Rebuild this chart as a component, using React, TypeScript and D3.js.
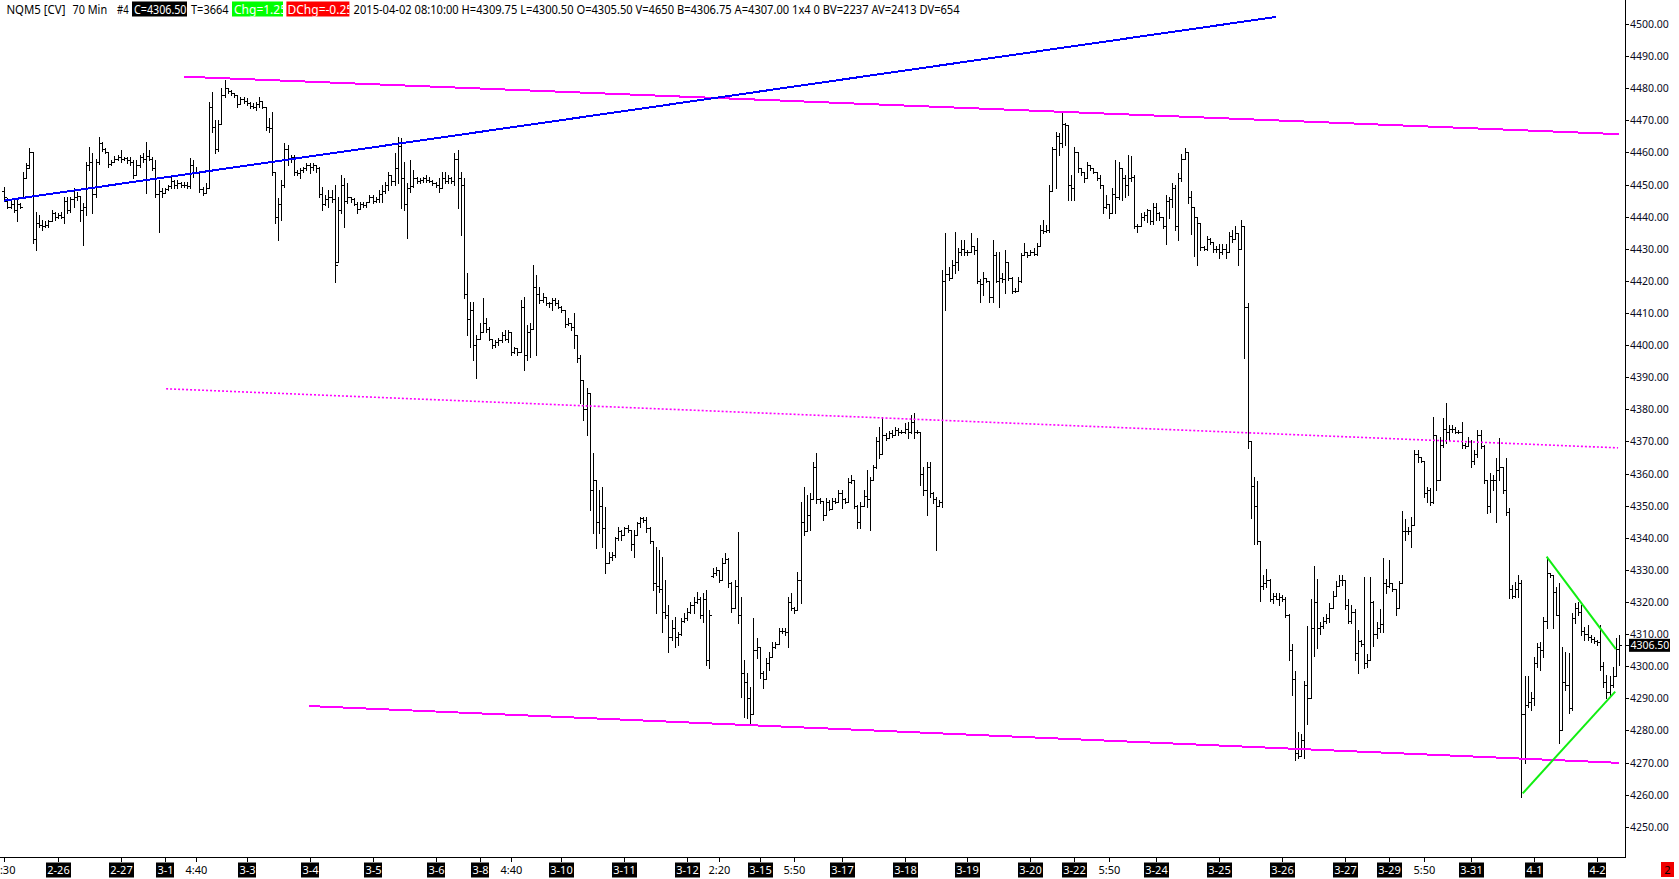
import React, { useLayoutEffect } from "react";
import * as d3 from "d3";

type Bar = [number, number, number, number]; // open, high, low, close

// ---------- OHLC sessions (70 min bars) ----------
const d0225: Bar[] = [
[4448,4449.3,4445.2,4446],[4445,4445.7,4442.6,4443],[4443,4445.2,4442.6,4444],[4444,4445.2,4441.6,4442],
[4442,4445.2,4438.5,4444],[4444,4444.2,4442.6,4443],[4446,4454,4446,4452],[4452,4456.6,4452,4455],
[4456,4461.3,4455,4460],[4460,4460,4431.7,4433],[4433,4441.6,4429.6,4438],[4438,4440.5,4436.9,4437.5],
[4437.5,4439,4435.9,4437],[4437,4438.5,4436.9,4437.5],[4437.5,4439,4436.9,4438.5],[4438.5,4442.1,4438.5,4441],
[4441,4441.5,4439,4440]];
const d0226: Bar[] = [
[4440,4441.1,4439.5,4440.5],[4440.5,4441.6,4439.5,4440],[4440,4446.2,4438,4445],[4445,4446,4441.1,4442],
[4442,4446.2,4441.5,4445.5],[4445.5,4448.8,4443.1,4446],[4446,4447.8,4445.2,4446.5],[4446.5,4446.5,4438.5,4442],
[4442,4444.2,4431.2,4443],[4443,4457.1,4440.5,4456],[4456,4461.8,4454.5,4457],[4457,4459.7,4441.1,4447],
[4447,4458,4446,4457],[4457,4464.9,4456.5,4463],[4463,4463.4,4460.3,4461],[4461,4461.3,4459.7,4460],
[4460,4460,4455.6,4456.5],[4456.5,4457.7,4456.1,4457],[4457,4458.9,4457,4458],[4458,4459.2,4457.7,4458.5]];
const d0227: Bar[] = [
[4458.5,4460.8,4457.1,4458],[4458,4458.7,4457.7,4458.2],[4458.2,4458.7,4456.6,4457.5],[4457.5,4458.7,4456.1,4457],
[4457,4457.7,4452,4453],[4453,4457.7,4453,4456],[4456,4459.2,4455.6,4458.5],[4458.5,4459.7,4457.1,4458],
[4458,4463.4,4447.3,4459],[4459,4460.8,4457.7,4458],[4458,4458.7,4454.5,4455],[4455,4457.7,4446.2,4447],
[4447,4451.4,4435.3,4448],[4448,4448.8,4446.2,4447.5]];
const d0301: Bar[] = [
[4447.5,4448.8,4447.3,4448.5],[4448.5,4449.9,4448.3,4449.5],[4449.5,4452.5,4448.8,4451],[4451,4451.4,4448.8,4450],
[4450,4451.4,4448.8,4450.5],[4450.5,4450.9,4449.3,4450]];
const d0302: Bar[] = [
[4450,4450.9,4449.3,4450],[4450,4450.9,4448.8,4449.5],[4449.5,4458.2,4448.8,4456],[4456,4457.7,4452.5,4454],
[4454,4455.6,4453.5,4454],[4454,4454,4447.8,4448.5],[4448.5,4449.3,4446.8,4447.5],[4447.5,4450.4,4447.5,4449],
[4449,4475.8,4449,4474],[4474,4478.9,4466.5,4468],[4468,4470.1,4459.7,4461],[4461,4470.1,4460.3,4469],
[4469,4480,4469,4478],[4478,4482.6,4477.4,4480],[4480,4480,4478.4,4479],[4479,4479.5,4477.9,4478.5],
[4478.5,4478.5,4477.4,4478],[4478,4478,4474.3,4475],[4475,4477.4,4475,4476.5],[4476.5,4477.4,4475.3,4476]];
const d0303: Bar[] = [
[4476,4476.9,4474.8,4475.5],[4475.5,4475.8,4473.7,4474.5],[4474.5,4475.3,4473.7,4474],[4474,4475.8,4473.2,4475],
[4475,4477.4,4474.3,4476],[4476,4476,4473.7,4474],[4474,4474,4467,4468],[4468,4470.6,4466.5,4467.5],
[4467.5,4472.7,4453,4454],[4454,4454,4438,4440],[4440,4445.7,4432.7,4444],[4444,4451.4,4439,4450],
[4450,4462.8,4449.3,4461],[4461,4462.3,4456.1,4458],[4458,4459.2,4457.1,4458.5],[4458.5,4459.2,4453,4454],
[4454,4454.5,4453,4453.5],[4453.5,4455,4451.9,4454.5],[4454.5,4455.6,4454,4455],[4455,4456.6,4454.5,4456]];
const d0304: Bar[] = [
[4456,4456.6,4453.5,4455.5],[4455.5,4456.6,4454.5,4456],[4456,4456,4454,4455],[4455,4455.6,4446.2,4447],
[4447,4449.3,4442.1,4444],[4444,4446.7,4443.6,4445.5],[4445.5,4448.3,4443.1,4446],[4446,4448.3,4444.7,4445.5],
[4445.5,4449.9,4419.8,4425],[4426,4446.2,4426,4442],[4442,4453,4441,4450],[4450,4451.9,4436.9,4445],
[4445,4450.4,4444.1,4446],[4446,4446.2,4444.7,4445.5],[4445.5,4445.7,4443.6,4444],[4444,4444.7,4441,4442.5],
[4442.5,4444.7,4442.5,4444],[4444,4444.7,4443.1,4443.5],[4443.5,4444.7,4443.1,4444.5],[4444.5,4446.7,4444.5,4446]];
const d0305: Bar[] = [
[4446,4446.7,4444.1,4445],[4445,4446.2,4444.7,4445.5],[4445.5,4448.3,4444.7,4447],[4447,4449.9,4444.7,4448],
[4448,4450.9,4447.3,4450],[4450,4454,4448.3,4453],[4453,4453,4449.9,4451],[4451,4459.7,4449.9,4455],
[4455,4464.9,4450.4,4462],[4462,4464.4,4442.6,4452],[4452,4457.1,4442.1,4444],[4444,4450.4,4433.3,4449],
[4449,4457.6,4447.8,4449.5],[4449.5,4454.5,4449.3,4452],[4452,4452.5,4450.4,4451],[4451,4451.9,4450.4,4451.5],
[4451.5,4452.5,4450.9,4452],[4452,4453,4450.9,4451.5],[4451.5,4452.5,4450.9,4451],[4451,4451.4,4449.9,4450.5]];
const d0306: Bar[] = [
[4450.5,4450.9,4449.3,4450],[4450,4451.9,4447.8,4449],[4449,4454,4448.8,4452],[4452,4454,4450.4,4451],
[4451,4453,4450.4,4452],[4452,4452.2,4450.4,4451],[4451,4459.7,4449.9,4458],[4458,4460.8,4442.6,4452],
[4452,4454,4434.3,4450],[4450,4451.9,4414.6,4416],[4416,4422.4,4403.1,4408],[4408,4413.5,4399.5,4411],
[4411,4413.5,4395.4,4400],[4400,4403.1,4389.7,4402]];
const d0308: Bar[] = [
[4402,4406.8,4402,4404],[4404,4414.6,4404,4407],[4407,4408.3,4404.2,4405],[4405,4405.7,4401.6,4402],
[4402,4402,4399,4400],[4400,4401.6,4399.5,4401]];
const d0309: Bar[] = [
[4401,4402.1,4400,4401.5],[4401.5,4404.2,4401.1,4403],[4403,4404.7,4401.5,4402],[4402,4404.7,4401.1,4404],
[4404,4404,4396.9,4398],[4398,4399.5,4397.5,4399],[4399,4399,4396.9,4398],[4398,4414,4398,4412],
[4412,4415,4392.2,4397],[4397,4406.3,4395.4,4404],[4404,4406.8,4396.4,4405],[4405,4425,4405,4418],
[4418,4421.8,4397,4416],[4416,4418.2,4413,4414],[4414,4416.1,4413.5,4415],[4415,4415.1,4412.5,4413],
[4413,4413.5,4412,4413],[4413,4414.6,4411,4414],[4414,4414.6,4412.5,4413],[4413,4414,4411.5,4412]];
const d0310: Bar[] = [
[4412,4412.2,4410.4,4411],[4411,4411,4405.7,4406.5],[4406.5,4408.3,4406.3,4407],[4407,4407,4404.7,4405.5],
[4405.5,4409.9,4399,4403],[4403,4403,4394.8,4396],[4396,4396.9,4381.9,4389],[4389,4389,4376.7,4380],
[4380,4386.5,4372,4385],[4385,4385,4348.6,4355],[4355,4366.3,4341.4,4358],[4358,4358,4336.7,4345],
[4345,4354.9,4341.4,4350],[4350,4355.9,4337.2,4343],[4343,4349.7,4328.9,4332],[4332,4335.7,4332,4334],
[4334,4335.7,4333.1,4334.5],[4334.5,4340.3,4334.1,4340],[4340,4343.5,4339.3,4342],[4342,4342.5,4339.3,4341]];
const d0311: Bar[] = [
[4341,4343.5,4340.9,4343],[4343,4344,4341.9,4342.5],[4342.5,4342.5,4336.2,4338],[4338,4342.4,4334.1,4341],
[4341,4345,4341,4344.5],[4344.5,4346.6,4343.5,4346],[4346,4346.6,4345,4345.5],[4345.5,4346.6,4341.9,4343],
[4343,4343.5,4338.3,4339],[4339,4339,4323.7,4326],[4326,4337.2,4316.5,4325],[4325,4336.2,4323.2,4324],
[4324,4334.1,4310.8,4317],[4317,4326.9,4314.9,4316],[4316,4319.1,4304.5,4309],[4309,4314.4,4308.2,4312],
[4312,4315.4,4306.1,4309],[4309,4310.8,4306.6,4310],[4310,4314.9,4309.7,4314],[4314,4316.5,4313.9,4315]];
const d0312: Bar[] = [
[4315,4318,4314.4,4317],[4317,4320.1,4316.5,4319],[4319,4321.7,4316.5,4320],[4320,4323.2,4319.6,4321],
[4321,4321.5,4314.9,4316],[4316,4322.7,4313.9,4321],[4321,4323.7,4300.4,4302],[4302,4317.5,4299.4,4316]];
const d0313: Bar[] = [
[4328,4330.5,4327.9,4329],[4329,4331,4328.4,4330],[4330,4330,4326.3,4327],[4327,4333.6,4327,4332],
[4332,4335.2,4332,4333.5],[4333.5,4333.6,4324.8,4326],[4326,4326.3,4317,4318],[4318,4326.9,4318,4325],
[4325,4341.9,4313.4,4316],[4316,4321.7,4290.5,4298],[4298,4302,4284.3,4295],[4295,4297.8,4283.8,4290],
[4290,4293.6,4281.7,4285],[4285,4314.9,4285,4305],[4305,4308.7,4302.5,4306]];
const d0315: Bar[] = [
[4306,4306,4296.2,4298],[4298,4298.5,4293.1,4296],[4296,4302.5,4296,4301],[4301,4304.5,4298.8,4303],
[4303,4307.6,4303,4306],[4306,4307.6,4305.6,4307]];
const d0316: Bar[] = [
[4307,4311.8,4307,4311],[4311,4311.8,4310.2,4311],[4311,4311.8,4309.7,4310.5],[4310.5,4321.7,4306.1,4320],
[4320,4322.7,4317.5,4318],[4318,4318.5,4316.5,4317.5],[4317.5,4329.4,4317.5,4327],[4327,4351.2,4319.6,4345],
[4345,4355.9,4340.9,4342],[4342,4353.3,4342,4347],[4347,4353.8,4342.4,4352],[4352,4363.7,4352,4362],
[4362,4366.3,4350.7,4352],[4352,4352.3,4350.7,4351.5],[4351.5,4351.5,4345.5,4347],[4347,4352.3,4347,4351],
[4351,4351.8,4348.6,4349],[4349,4352.3,4349,4351.5],[4351.5,4352.3,4350.7,4351],[4351,4354.9,4351,4354]];
const d0317: Bar[] = [
[4354,4354.9,4349.2,4352],[4352,4352.3,4350.7,4351],[4351,4358.5,4351,4357.5],[4357.5,4359.6,4357,4358],
[4358,4358,4349.2,4350],[4350,4350.2,4342.9,4345],[4345,4351.2,4342.9,4350],[4350,4354.9,4350,4353],
[4353,4361.1,4349.7,4352],[4352,4359,4342.4,4358],[4358,4362.7,4358,4362],[4362,4371.5,4361.6,4370],
[4370,4374.6,4364.7,4366],[4366,4377.7,4366,4372],[4372,4372.5,4370.4,4371],[4371,4373.1,4371,4372.5],
[4372.5,4373.6,4371.5,4372],[4372,4374.6,4372,4373.5],[4373.5,4374.1,4372,4373],[4373,4373.6,4372.5,4373]];
const d0318: Bar[] = [
[4373,4375.6,4372.5,4374],[4374,4376.2,4371,4373],[4373,4378.2,4372.5,4376],[4376,4378.8,4371,4373],
[4373,4373.6,4372.5,4373],[4373,4373,4356.4,4360],[4360,4362.1,4353.3,4355],[4355,4363.7,4347.1,4362],
[4362,4363.7,4352.8,4354],[4354,4354.4,4350.7,4352],[4352,4352.8,4336.2,4350],[4350,4351.8,4350.2,4351],
[4351,4423.4,4349.7,4420],[4420,4434.8,4410.9,4422],[4422,4424.4,4420.3,4421],[4421,4426.5,4421,4425],
[4425,4435.3,4422.4,4426],[4426,4430.1,4423.4,4429],[4429,4432.7,4428.1,4430],[4430,4432.7,4428.1,4429]];
const d0319: Bar[] = [
[4429,4429.6,4428.1,4429],[4429,4434.8,4429,4431],[4431,4431,4428.5,4429.5],[4429.5,4433.2,4419.2,4420],
[4420,4420.5,4413.5,4419],[4419,4422.9,4415.6,4421],[4421,4421,4419.8,4420],[4420,4420,4413.5,4415],
[4415,4432.7,4413.5,4428],[4428,4429.1,4419.8,4420],[4420,4429.1,4412,4421],[4421,4422.4,4419.8,4420.5],
[4420.5,4429.6,4416.1,4426],[4426,4426,4420.3,4421],[4421,4421.3,4416.1,4417],[4417,4417.7,4416.6,4417],
[4417,4421.3,4417,4420],[4420,4428.6,4419.8,4428],[4428,4431.7,4428,4429],[4429,4429.1,4427.5,4428]];
const d0320: Bar[] = [
[4428,4429.6,4428,4429],[4429,4430.1,4428.1,4428.5],[4428.5,4431.7,4428.1,4431],[4431,4437.4,4431,4436],
[4436,4439,4434.8,4435.5],[4435.5,4437.4,4435.3,4436],[4436,4449.9,4435.3,4448],[4448,4461.8,4448,4461],
[4461,4466.5,4448.8,4465],[4465,4465.9,4459.2,4463],[4463,4472.2,4461.8,4469],[4469,4469.1,4462.3,4468.5],
[4468.5,4468.5,4445.2,4450],[4450,4453,4445.2,4449]];
const d0322: Bar[] = [
[4449,4461.8,4445.2,4460],[4460,4460.2,4454,4455],[4455,4455,4453,4454],[4454,4454,4450.9,4452],
[4452,4457.1,4452,4456],[4456,4456.1,4454.5,4455]];
const d0323: Bar[] = [
[4455,4455,4453.5,4454],[4454,4454,4451.4,4452],[4452,4453,4448.8,4450],[4450,4450,4441,4443],
[4443,4446.7,4442.6,4444],[4444,4444,4439.5,4441],[4441,4448.8,4441,4447],[4447,4457.6,4441,4446],
[4446,4457.1,4445.4,4455],[4455,4455,4445.2,4452],[4452,4453.1,4446.2,4450],[4450,4459.2,4446.7,4452],
[4452,4458.8,4451.2,4452.5],[4452.5,4453.1,4436.5,4437],[4437,4437.8,4435.3,4437],[4437,4441,4437,4440],
[4440,4441.6,4439.1,4440.5],[4440.5,4442.3,4438.4,4442],[4442,4442,4437.8,4438.5],[4438.5,4444.2,4437.8,4443]];
const d0324: Bar[] = [
[4443,4444.2,4439.1,4441],[4441,4441.6,4439.1,4440],[4440,4440,4436.5,4437],[4437,4446.7,4431.5,4445],
[4445,4446.1,4439.7,4445.5],[4445.5,4450.5,4442.9,4449],[4449,4449.9,4435.9,4437],[4437,4453.7,4432.7,4452],
[4452,4459.4,4451.2,4458],[4458,4461.3,4458,4460],[4460,4460,4444.2,4446],[4446,4448,4434.6,4443],
[4443,4443,4427.6,4440],[4440,4440,4425.1,4438],[4438,4438,4429.6,4430.5],[4430.5,4430.8,4429.6,4430],
[4430,4434,4429.6,4433],[4433,4433.4,4431.5,4432],[4432,4432.1,4428.9,4430],[4430,4430.8,4428.9,4430]];
const d0325: Bar[] = [
[4430,4431.5,4427,4429],[4429,4431.5,4428.3,4430],[4430,4431.5,4427,4429],[4429,4435.3,4429,4434],
[4434,4435.9,4432.1,4433],[4433,4437.2,4433,4435],[4435,4435,4425.1,4430],[4430,4439.1,4430,4437],
[4437,4437,4395.9,4412],[4412,4413,4367.9,4370],[4370,4370,4346.3,4356],[4356,4359,4338,4350],
[4350,4357.7,4338,4339],[4339,4339,4320.3,4325],[4325,4328.5,4324.1,4326],[4326,4330.4,4324.7,4327],
[4327,4327.3,4320.3,4321],[4321,4322.8,4319.6,4322],[4322,4322.8,4320.9,4321],[4321,4322.8,4319,4321.5]];
const d0326: Bar[] = [
[4321.5,4322.2,4320.3,4321],[4321,4321.5,4315.2,4316],[4316,4316.4,4301.8,4305],[4305,4306.9,4291,4296],
[4296,4298.6,4270.7,4273],[4273,4279.6,4271.3,4272],[4272,4278.9,4272,4277],[4277,4295.5,4271.3,4294],
[4294,4312.6,4282.1,4290],[4290,4320.9,4290,4312],[4312,4331.1,4303.1,4320],[4320,4327.3,4305.6,4312],
[4312,4313.9,4310.1,4312.5],[4312.5,4315.2,4312,4314],[4314,4316.4,4313.3,4315],[4315,4319.6,4313.9,4318],
[4318,4323.4,4318,4322],[4322,4326.6,4322,4325],[4325,4328.5,4325,4327],[4327,4328.5,4325.3,4327]];
const d0327: Bar[] = [
[4327,4327,4317.7,4319],[4319,4320.9,4313.3,4314],[4314,4319,4313.3,4317],[4317,4317.7,4301.8,4304],
[4304,4311.3,4298,4308],[4308,4308.2,4306.3,4307],[4307,4327.9,4299.3,4301],[4301,4303.7,4299.9,4302],
[4302,4327.9,4301.8,4320],[4320,4320.3,4306.3,4310],[4310,4313.9,4308.8,4312],[4312,4317.7,4310.7,4313],
[4313,4333.6,4310.7,4326],[4326,4327.3,4322.8,4325]];
const d0329: Bar[] = [
[4325,4333,4324.7,4326],[4326,4326,4323.4,4324],[4324,4324.1,4315.8,4318],[4318,4326.6,4318,4326],
[4326,4348.2,4326,4342],[4342,4345.7,4339.3,4342]];
const d0330: Bar[] = [
[4342,4343.5,4341.2,4342],[4342,4346.6,4337.2,4344],[4344,4367.3,4344,4366],[4366,4367.3,4363.7,4365],
[4365,4365,4363.7,4364],[4364,4364,4352.8,4354],[4354,4355.9,4351.2,4355],[4355,4355.4,4350.2,4351],
[4351,4377.7,4350.7,4372],[4372,4372,4354.9,4358],[4358,4371.5,4358,4369],[4369,4377.2,4368.4,4374],
[4374,4381.9,4369.4,4373],[4373,4375.1,4370.4,4374],[4374,4375.1,4373,4374],[4374,4374.6,4372.5,4373],
[4373,4373.6,4372.5,4373],[4373,4376.2,4367.9,4369],[4369,4369.4,4367.9,4368.5],[4368.5,4371.5,4368.5,4370]];
const d0331: Bar[] = [
[4370,4370.5,4362.1,4364],[4364,4367.3,4363,4366],[4366,4373.6,4365.3,4372],[4372,4373.6,4367.9,4368.5],
[4368.5,4369,4356.9,4358],[4358,4358,4347.6,4350],[4350,4360.1,4348.1,4358],[4358,4359.6,4354.9,4358],
[4358,4364.7,4345,4361],[4361,4371,4358,4362],[4362,4362,4353.8,4355],[4355,4364.7,4347,4348],
[4348,4349.2,4321.1,4324],[4324,4325.3,4321.1,4322],[4322,4326.3,4321.7,4324],[4324,4328.4,4321.7,4326],
[4326,4326.8,4259.4,4285],[4285,4296.8,4269.8,4288],[4288,4296.8,4287.4,4289],[4289,4292.1,4286.4,4290]];
const d0401: Bar[] = [
[4290,4303,4287.9,4301],[4301,4307.1,4299.9,4306],[4306,4307.6,4298.8,4305],[4305,4315.4,4303,4314],
[4314,4334.1,4311.8,4329],[4329,4329,4327.9,4328.5],[4328.5,4328.5,4311.8,4323],[4323,4324.8,4315.9,4316],
[4316,4325.8,4276,4280],[4280,4306.1,4280,4295],[4295,4304.5,4292.6,4294],[4294,4304,4285.3,4287],
[4287,4316.5,4286.4,4315],[4315,4319.6,4313.3,4318],[4318,4320.1,4316,4317],[4317,4319.1,4309.7,4311],
[4311,4312.3,4308.2,4310],[4310,4312.8,4308.2,4309],[4309,4309.7,4307.6,4308.5],[4308.5,4309.2,4307.1,4308]];
const d0402: Bar[] = [
[4308,4308.2,4306.6,4307.5],[4307.5,4312.8,4298.8,4300],[4300,4301.4,4293.6,4295],[4295,4297.3,4290,4292],
[4292,4296.8,4291,4294],[4294,4299.9,4293.6,4297],[4297,4308.7,4296.8,4305.5],[4305.5,4309.75,4300.5,4306.5]];

const sessions: Bar[][] = [
  d0225, d0226, d0227, d0301, d0302, d0303, d0304, d0305, d0306, d0308, d0309, d0310, d0311,
  d0312, d0313, d0315, d0316, d0317, d0318, d0319, d0320, d0322, d0323, d0324, d0325, d0326,
  d0327, d0329, d0330, d0331, d0401, d0402,
];

// ---------- time axis labels (bar index -> text) ----------
const axisTickIndex = [0, 17, 37, 51, 61, 77, 97, 117, 137, 151, 161, 177, 197, 217, 227, 240, 251,
  266, 286, 306, 326, 340, 351, 366, 386, 406, 426, 440, 451, 466, 486, 506];
const axisTickText = ["3:30", "2-26", "2-27", "3-1", "4:40", "3-3", "3-4", "3-5", "3-6", "3-8", "4:40",
  "3-10", "3-11", "3-12", "2:20", "3-15", "5:50", "3-17", "3-18", "3-19", "3-20", "3-22", "5:50",
  "3-24", "3-25", "3-26", "3-27", "3-29", "5:50", "3-31", "4-1", "4-2"];

// ---------- price axis ----------
const priceTicks = d3.range(4250, 4501, 10);
const lastPrice = 4306.5;

// ---------- drawn trend lines: [bar index, price] ----------
const blueTrend: [number, number][] = [[-0.1, 4445.0], [404.0, 4502.2]];
const magentaTop: [number, number][] = [[57.1, 4483.6], [513, 4465.7]];
const magentaMid: [number, number][] = [[51.4, 4386.4], [512.7, 4368.0]];
const magentaBottom: [number, number][] = [[96.8, 4287.6], [513, 4269.9]];
const greenUpper: [number, number][] = [[490, 4334.1], [512, 4305.3]];
const greenLower: [number, number][] = [[482.4, 4260.4], [511.8, 4292.1]];

// ---------- header texts ----------
const hdrSymbol = "NQM5 [CV]";
const hdrInterval = "70 Min";
const hdrNum = "#4";
const hdrClose = "C=4306.50";
const hdrTicks = "T=3664";
const hdrChg = "Chg=1.25";
const hdrDChg = "DChg=-0.25";
const hdrRest = "2015-04-02 08:10:00 H=4309.75 L=4300.50 O=4305.50 V=4650 B=4306.75 A=4307.00 1x4 0 BV=2237 AV=2413 DV=654";
const cornerText = "2";

const FONT = "'Noto Sans', 'Open Sans', 'DejaVu Sans', sans-serif";

function estWidth(t: string): number {
  let w = 0;
  for (const ch of t) {
    if (ch === "-") w += 3.6;
    else if (ch === ":") w += 3.0;
    else w += 6.3;
  }
  return w;
}

export default function App() {
  useLayoutEffect(() => {
    document.body.style.margin = "0";
    document.body.style.background = "#fff";
  }, []);

  const bars = sessions.flat();
  const x = d3.scaleLinear().domain([0, bars.length - 1]).range([4.3, 1619]);
  const y = d3.scaleLinear().domain([4250, 4500]).range([826.75, 24]);

  let barPath = "";
  bars.forEach(([o, h, l, c], i) => {
    const xi = Math.round(x(i));
    const top = Math.round(y(Math.max(o, h, l, c)));
    const bot = Math.round(y(Math.min(o, h, l, c)));
    const yo = Math.round(y(o));
    const yc = Math.round(y(c));
    barPath += `M${xi + 0.5},${top}V${bot + 1}M${xi - 2},${yo + 0.5}h2M${xi + 1},${yc + 0.5}h2`;
  });

  const line = d3.line<[number, number]>().x((d) => x(d[0])).y((d) => y(d[1]));

  const axisX = 1625.5;
  const axisY = 857.5;
  const yLast = y(lastPrice);

  return (
    <svg width={1679} height={879} style={{ display: "block", background: "#fff" }} fontFamily={FONT}>
      <defs>
        <clipPath id="clipChg"><rect x={232} y={1.5} width={51} height={15} /></clipPath>
        <clipPath id="clipDChg"><rect x={286.4} y={1.5} width={63} height={15} /></clipPath>
        <clipPath id="clipPlot"><rect x={0} y={0} width={1625} height={857} /></clipPath>
      </defs>

      {/* bars */}
      <g clipPath="url(#clipPlot)">
        <path d={barPath} stroke="#000" strokeWidth={1} fill="none" shapeRendering="crispEdges" />
        {/* trend lines */}
        <path d={line(magentaMid) || ""} stroke="#ff00ff" strokeWidth={1.6} strokeDasharray="2 2" fill="none" />
        <path d={line(magentaTop) || ""} stroke="#ff00ff" strokeWidth={2} fill="none" shapeRendering="crispEdges" />
        <path d={line(magentaBottom) || ""} stroke="#ff00ff" strokeWidth={2} fill="none" shapeRendering="crispEdges" />
        <path d={line(blueTrend) || ""} stroke="#0000ff" strokeWidth={2} fill="none" shapeRendering="crispEdges" />
        <path d={line(greenUpper) || ""} stroke="#11ee11" strokeWidth={2} fill="none" />
        <path d={line(greenLower) || ""} stroke="#11ee11" strokeWidth={2} fill="none" />
      </g>

      {/* axes lines */}
      <line x1={axisX} x2={axisX} y1={0} y2={858} stroke="#000" strokeWidth={1} shapeRendering="crispEdges" />
      <line x1={0} x2={1626} y1={axisY} y2={axisY} stroke="#000" strokeWidth={1} shapeRendering="crispEdges" />

      {/* price axis */}
      <g fontSize={10.5} fill="#0a0a1e">
        {priceTicks.map((p) => (
          <g key={p}>
            <line x1={1626} x2={1629} y1={Math.round(y(p)) + 0.5} y2={Math.round(y(p)) + 0.5} stroke="#000" shapeRendering="crispEdges" />
            <text x={1630} y={y(p) + 4}>{p.toFixed(2)}</text>
          </g>
        ))}
      </g>
      <line x1={1626} x2={1629} y1={Math.round(yLast) + 0.5} y2={Math.round(yLast) + 0.5} stroke="#000" shapeRendering="crispEdges" />
      <rect x={1629} y={yLast - 6.5} width={41} height={13} fill="#000" />
      <text x={1630.5} y={yLast + 4} fontSize={10.5} fill="#fff">{lastPrice.toFixed(2)}</text>

      {/* time axis */}
      <g fontSize={11}>
        {axisTickIndex.map((idx, k) => {
          const t = axisTickText[k];
          const cx = Math.round(x(idx)) + 0.5;
          const isDate = t.includes("-");
          const w = estWidth(t) + 2;
          return (
            <g key={k}>
              <line x1={cx} x2={cx} y1={858} y2={862} stroke="#000" shapeRendering="crispEdges" />
              {isDate && <rect x={Math.round(cx - w / 2)} y={862.5} width={Math.round(w)} height={15} fill="#000" />}
              <text x={cx} y={874} textAnchor="middle" fill={isDate ? "#fff" : "#000"}>{t}</text>
            </g>
          );
        })}
      </g>
      <rect x={1661} y={862} width={13} height={15} fill="#f00000" />
      <text x={1667.5} y={874} fontSize={11} textAnchor="middle" fill="#000">{cornerText}</text>

      {/* header */}
      <g fontSize={12} fill="#000">
        <text x={6.4} y={13.5} textLength={59} lengthAdjust="spacingAndGlyphs">{hdrSymbol}</text>
        <text x={72.5} y={13.5} textLength={34.6} lengthAdjust="spacingAndGlyphs">{hdrInterval}</text>
        <text x={117} y={13.5} textLength={11.6} lengthAdjust="spacingAndGlyphs">{hdrNum}</text>
        <rect x={132} y={1.5} width={55} height={15} fill="#000" />
        <text x={134} y={13.5} fill="#fff" textLength={52.5} lengthAdjust="spacingAndGlyphs">{hdrClose}</text>
        <text x={191} y={13.5} textLength={37.6} lengthAdjust="spacingAndGlyphs">{hdrTicks}</text>
        <rect x={232} y={1.5} width={51} height={15} fill="#00ff00" />
        <text x={234} y={13.5} fill="#fff" clipPath="url(#clipChg)">{hdrChg}</text>
        <rect x={286.4} y={1.5} width={63} height={15} fill="#ff0000" />
        <text x={287.5} y={13.5} fill="#fff" clipPath="url(#clipDChg)">{hdrDChg}</text>
        <text x={353.6} y={13.5} textLength={606} lengthAdjust="spacingAndGlyphs">{hdrRest}</text>
      </g>
    </svg>
  );
}
